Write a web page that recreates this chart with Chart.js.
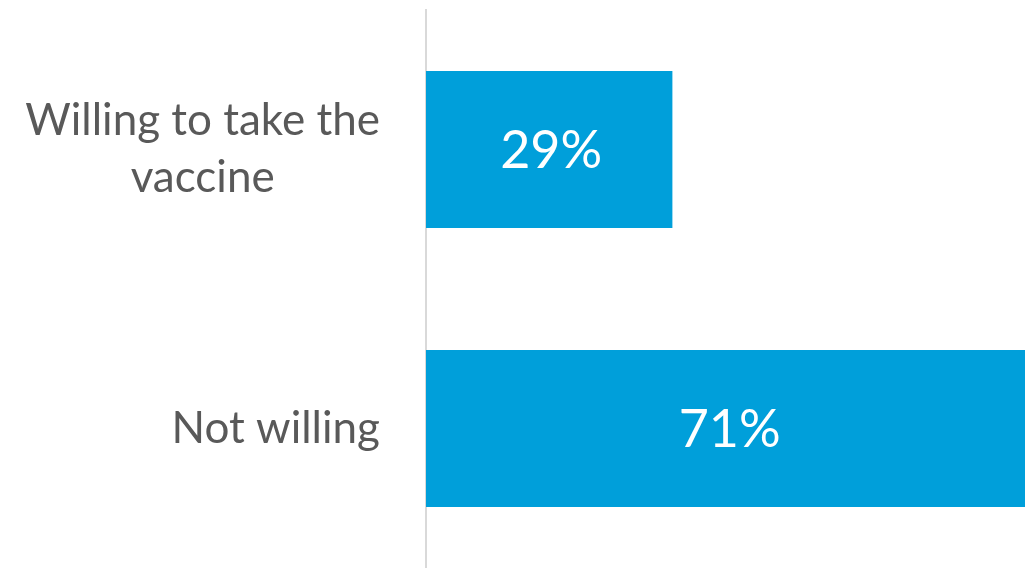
<!DOCTYPE html>
<html>
<head>
<meta charset="utf-8">
<script src="https://cdn.jsdelivr.net/npm/chart.js@4/dist/chart.umd.min.js"></script>
<style>
  body { margin: 0; background: #ffffff; }
  #wrap { width: 1031px; height: 568px; }
</style>
</head>
<body>
<div id="wrap"><canvas id="vaccineGraph" width="1031" height="568"></canvas></div>
<script>
// datos del grafico
var categorias = [['Willing to take the', 'vaccine'], ['Not willing']];
var porcentajes = [29, 71];
var etiquetas = ['29%', '71%'];

// texto blanco dentro de cada barra
var valorEnBarra = {
  id: 'valorEnBarra',
  afterDatasetsDraw: function (chart) {
    var ctx = chart.ctx;
    var meta = chart.getDatasetMeta(0);
    ctx.save();
    ctx.fillStyle = '#ffffff';
    ctx.font = '52px Lato';
    ctx.textAlign = 'center';
    ctx.textBaseline = 'middle';
    for (var i = 0; i < meta.data.length; i++) {
      var bar = meta.data[i];
      ctx.fillText(etiquetas[i], (bar.x + bar.base) / 2 + 2, bar.y + 2);
    }
    ctx.restore();
  }
};

// etiquetas del eje y: bloque alineado a la derecha, lineas centradas
var etiquetasEje = {
  id: 'etiquetasEje',
  afterDraw: function (chart) {
    var ctx = chart.ctx;
    var escala = chart.scales.y;
    var derecha = escala.right - 46;
    var alto = 57;
    ctx.save();
    ctx.fillStyle = '#595959';
    ctx.font = '44px Lato';
    ctx.textAlign = 'center';
    ctx.textBaseline = 'middle';
    for (var i = 0; i < categorias.length; i++) {
      var lineas = categorias[i];
      var ancho = 0;
      for (var j = 0; j < lineas.length; j++) {
        ancho = Math.max(ancho, ctx.measureText(lineas[j]).width);
      }
      var cx = derecha - ancho / 2;
      var y0 = escala.getPixelForTick(i) - (lineas.length - 1) * alto / 2;
      for (var j = 0; j < lineas.length; j++) {
        ctx.fillText(lineas[j], cx, y0 + j * alto);
      }
    }
    ctx.restore();
  }
};

var ctx = document.getElementById('vaccineGraph').getContext('2d');
var myChart = new Chart(ctx, {
  type: 'bar',
  data: {
    labels: categorias,
    datasets: [{
      data: porcentajes,
      backgroundColor: '#009fda',
      borderWidth: 0,
      categoryPercentage: 1,
      barPercentage: 0.563
    }]
  },
  options: {
    indexAxis: 'y',
    responsive: false,
    animation: false,
    layout: { padding: { top: 10, right: 6, bottom: 0, left: 0 } },
    plugins: {
      legend: { display: false },
      tooltip: { enabled: false }
    },
    scales: {
      x: {
        display: false,
        min: 0,
        max: 70.5
      },
      y: {
        afterFit: function (scale) {
          scale.width = 426;
          scale.paddingTop = 0;
          scale.paddingBottom = 0;
        },
        grid: { display: false, drawTicks: false },
        border: { display: true, color: '#d9d9d9', width: 2 },
        ticks: { display: false }
      }
    }
  },
  plugins: [valorEnBarra, etiquetasEje]
});
</script>
</body>
</html>
